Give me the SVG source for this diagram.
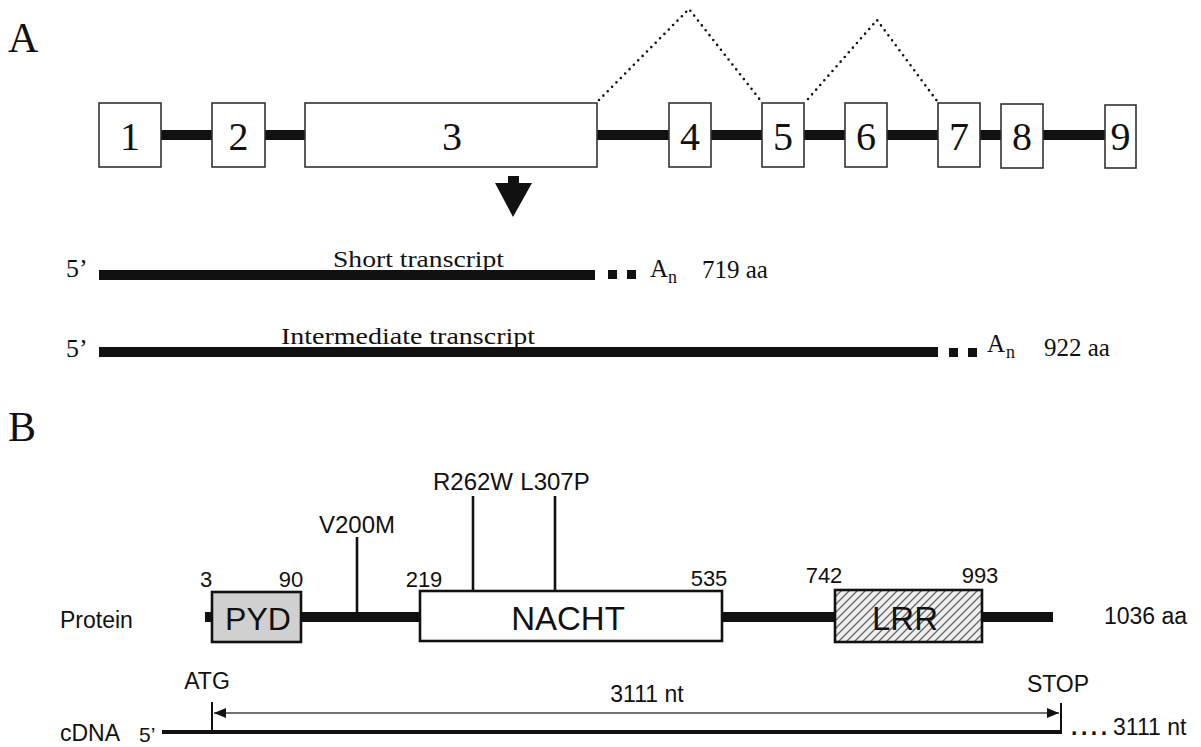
<svg xmlns="http://www.w3.org/2000/svg" width="1201" height="747" viewBox="0 0 1201 747">
<defs>
<style>
.serif{font-family:"Liberation Serif","Times New Roman",serif;fill:#111}
.sans{font-family:"Liberation Sans",Arial,sans-serif;fill:#111}
.exon{fill:#fff;stroke:#333;stroke-width:1.6}
.num{font-size:40px;text-anchor:middle}
.dom{stroke:#111;stroke-width:2.6}
.mut{stroke:#111;stroke-width:2.6}
.pos{font-size:22px;text-anchor:middle}
.lab{font-size:24px;text-anchor:middle}
.dots{fill:none;stroke:#111;stroke-width:2.6;stroke-linecap:round;stroke-dasharray:0 6.2}
</style>
<pattern id="hatch" patternUnits="userSpaceOnUse" width="8" height="8">
<rect width="8" height="8" fill="#efefef"/>
<path d="M-2,2 L2,-2 M0,8 L8,0 M6,10 L10,6" stroke="#6a6a6a" stroke-width="1.4"/>
</pattern>
<marker id="arrL" markerWidth="12" markerHeight="12" refX="0" refY="5" orient="auto" markerUnits="userSpaceOnUse">
<path d="M0,5 L12,0 L12,10 Z" fill="#111"/>
</marker>
<marker id="arrR" markerWidth="12" markerHeight="12" refX="12" refY="5" orient="auto" markerUnits="userSpaceOnUse">
<path d="M12,5 L0,0 L0,10 Z" fill="#111"/>
</marker>
</defs>
<rect width="1201" height="747" fill="#fff"/>

<text class="serif" x="8" y="52" font-size="42">A</text>
<text class="serif" x="8" y="441" font-size="42">B</text>

<g id="connectors">
<rect x="161" y="130" width="944" height="10" fill="#111"/>
<polyline class="dots" points="599,100 689,9 761,101"/>
<polyline class="dots" points="808,99 877,20 937,101"/>
<path d="M508,176 L519,176 L519,183 L532,183 L513,217 L495,183 L508,183 Z" fill="#111"/>
<rect x="99" y="270" width="496" height="10" fill="#111"/>
<rect x="608" y="270" width="9" height="9" fill="#111"/>
<rect x="627" y="270" width="9" height="9" fill="#111"/>
<rect x="99" y="347" width="839" height="10" fill="#111"/>
<rect x="949" y="348" width="9" height="9" fill="#111"/>
<rect x="968" y="348" width="9" height="9" fill="#111"/>
<rect x="205" y="612" width="848" height="10" fill="#111"/>
<line class="mut" x1="357" y1="537" x2="357" y2="612"/>
<line class="mut" x1="473" y1="496" x2="473" y2="591"/>
<line class="mut" x1="555" y1="496" x2="555" y2="591"/>
<line x1="162" y1="732" x2="1062" y2="732" stroke="#111" stroke-width="4"/>
<line x1="212" y1="702" x2="212" y2="733" stroke="#111" stroke-width="2"/>
<line x1="1061" y1="703" x2="1061" y2="733" stroke="#111" stroke-width="2"/>
<line x1="214" y1="713" x2="1059" y2="713" stroke="#444" stroke-width="1.5" marker-start="url(#arrL)" marker-end="url(#arrR)"/>
</g>

<g id="exon1"><rect class="exon" x="99" y="103" width="62" height="64"/><text class="serif num" x="130" y="150">1</text></g>
<g id="exon2"><rect class="exon" x="212" y="103" width="53" height="64"/><text class="serif num" x="238.5" y="150">2</text></g>
<g id="exon3"><rect class="exon" x="305" y="103" width="292" height="64"/><text class="serif num" x="452" y="150">3</text></g>
<g id="exon4"><rect class="exon" x="669" y="103" width="42" height="64"/><text class="serif num" x="690" y="150">4</text></g>
<g id="exon5"><rect class="exon" x="762" y="103" width="42" height="64"/><text class="serif num" x="783" y="150">5</text></g>
<g id="exon6"><rect class="exon" x="845" y="103" width="42" height="64"/><text class="serif num" x="866" y="150">6</text></g>
<g id="exon7"><rect class="exon" x="938" y="103" width="42" height="64"/><text class="serif num" x="959" y="150">7</text></g>
<g id="exon8"><rect class="exon" x="1001" y="104" width="42" height="64"/><text class="serif num" x="1022" y="150">8</text></g>
<g id="exon9"><rect class="exon" x="1105" y="105" width="31" height="63"/><text class="serif num" x="1120.5" y="150">9</text></g>

<g id="short-transcript">
<text class="serif" x="66" y="277" font-size="26">5’</text>
<text class="serif" x="333" y="267" font-size="24" textLength="171" lengthAdjust="spacingAndGlyphs">Short transcript</text>
<text class="serif" x="650" y="277" font-size="25">A</text>
<text class="serif" x="668" y="283" font-size="18">n</text>
<text class="serif" x="702" y="278" font-size="25">719 aa</text>
</g>
<g id="intermediate-transcript">
<text class="serif" x="66" y="357" font-size="26">5’</text>
<text class="serif" x="281" y="344" font-size="24" textLength="254" lengthAdjust="spacingAndGlyphs">Intermediate transcript</text>
<text class="serif" x="987" y="352" font-size="25">A</text>
<text class="serif" x="1006" y="358" font-size="18">n</text>
<text class="serif" x="1044" y="356" font-size="25">922 aa</text>
</g>

<text class="sans" x="60" y="628" font-size="23">Protein</text>

<g id="PYD">
<rect class="dom" x="212" y="592" width="89" height="50" fill="#d0d0d0"/>
<text class="sans" x="258" y="630" font-size="32" text-anchor="middle">PYD</text>
<text class="sans pos" x="206" y="587">3</text>
<text class="sans pos" x="291" y="587">90</text>
</g>
<g id="NACHT">
<rect class="dom" x="420" y="591" width="302" height="50" fill="#fff"/>
<text class="sans" x="568" y="630" font-size="33" text-anchor="middle">NACHT</text>
<text class="sans pos" x="424" y="587">219</text>
<text class="sans pos" x="709" y="586">535</text>
</g>
<g id="LRR">
<rect class="dom" x="835" y="590" width="147" height="52" fill="url(#hatch)"/>
<text class="sans" x="905" y="630" font-size="33" text-anchor="middle">LRR</text>
<text class="sans pos" x="824" y="583">742</text>
<text class="sans pos" x="980" y="583">993</text>
</g>
<text class="sans" x="1104" y="624" font-size="23">1036 aa</text>

<g id="mutations">
<text class="sans lab" x="357" y="533">V200M</text>
<text class="sans lab" x="473" y="490">R262W</text>
<text class="sans lab" x="555" y="490">L307P</text>
</g>

<g id="cDNA">
<text class="sans" x="60" y="741" font-size="23">cDNA</text>
<text class="sans" x="139" y="742" font-size="21">5’</text>
<text class="sans" x="207" y="689" font-size="23" text-anchor="middle">ATG</text>
<text class="sans" x="1058" y="692" font-size="23" text-anchor="middle">STOP</text>
<text class="sans" x="647" y="702" font-size="23" text-anchor="middle">3111 nt</text>
<text class="sans" x="1071" y="735" font-size="23" font-weight="bold" letter-spacing="3.5">....</text>
<text class="sans" x="1113" y="735" font-size="23">3111 nt</text>
</g>
</svg>
